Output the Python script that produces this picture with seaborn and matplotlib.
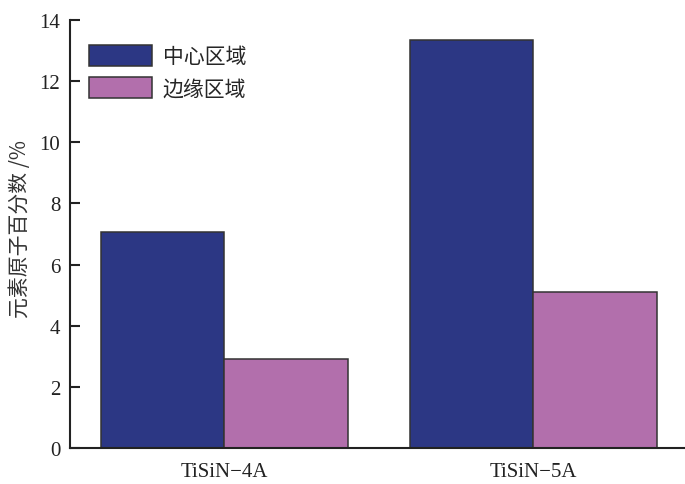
import matplotlib
matplotlib.use("Agg")
import matplotlib.pyplot as plt
import seaborn as sns
import pandas as pd

# Element atomic percentages for two coatings, centre vs edge region
samples = ["TiSiN−4A", "TiSiN−5A"]
regions = ["中心区域", "边缘区域"]
center_values = [7.05, 13.35]
edge_values = [2.9, 5.1]
y_ticks = [0, 2, 4, 6, 8, 10, 12, 14]

df = pd.DataFrame({
    "sample": samples * 2,
    "region": [regions[0]] * 2 + [regions[1]] * 2,
    "value": center_values + edge_values,
})

sns.set_theme(style="white")
plt.rcParams["font.family"] = ["Liberation Serif", "Noto Sans CJK SC", "DejaVu Sans"]

fig = plt.figure(figsize=(6.85, 4.85), dpi=100)
ax = fig.add_axes([70 / 685, 36 / 485, 617.5 / 685, 428 / 485])

palette = {regions[0]: "#2c3784", regions[1]: "#b26fac"}
sns.barplot(data=df, x="sample", y="value", hue="region", order=samples,
            hue_order=regions, palette=palette, width=0.8, gap=0,
            edgecolor="#333333", linewidth=1.1, saturation=1, ax=ax)

ax.set_xlim(-0.5, 1.5)
ax.set_ylim(0, 14)
ax.set_yticks(y_ticks)
ax.set_yticklabels([str(t) for t in y_ticks], fontsize=15)
ax.tick_params(axis="y", left=True, direction="in", length=7, width=1.5,
               color="#222222", labelcolor="#222222", pad=7)
ax.tick_params(axis="x", bottom=False, length=0, labelsize=15,
               labelcolor="#222222", pad=10)
for t in ax.yaxis.get_major_ticks():
    t.tick1line.set_clip_on(False)
ax.set_xlabel("")
ax.set_ylabel("元素原子百分数 /%", fontsize=15,
              family=["Noto Sans CJK SC", "DejaVu Sans"], color="#333333")
ax.yaxis.set_label_coords(-0.063, 0.515)

for side in ["top", "right"]:
    ax.spines[side].set_visible(False)
for side in ["left", "bottom"]:
    ax.spines[side].set_color("#222222")
    ax.spines[side].set_linewidth(1.5)

leg = ax.legend(loc="upper left", bbox_to_anchor=(19 / 617.5, (449 - 46) / 428),
                frameon=False, handlelength=3.0, handleheight=1.15,
                handletextpad=0.55, labelspacing=0.48, borderpad=0, borderaxespad=0,
                prop={"family": ["Noto Sans CJK SC", "DejaVu Sans"], "size": 15})
for h in leg.legend_handles:
    h.set_edgecolor("#333333")
    h.set_linewidth(1.1)

fig.savefig("out.png", dpi=100)
